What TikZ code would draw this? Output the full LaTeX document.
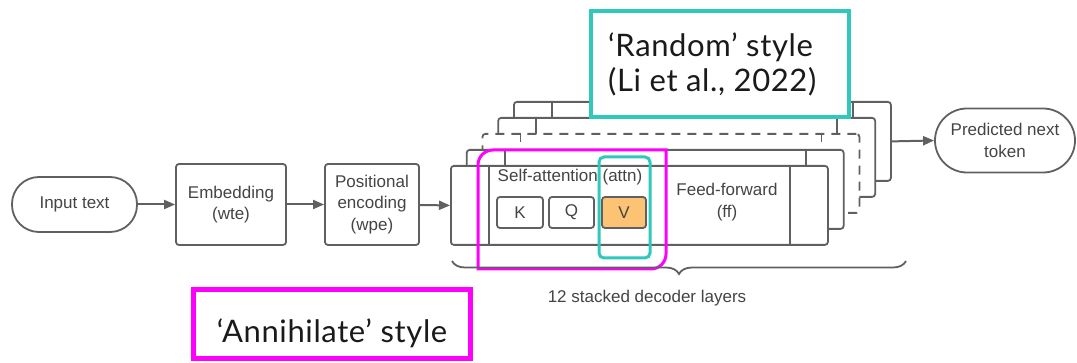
\documentclass[tikz,border=0pt]{standalone}
\usepackage{fontspec}
\setmainfont{Liberation Sans}
\newfontfamily\labelfont[LetterSpace=2]{Lato}
\usetikzlibrary{arrows.meta,decorations.pathreplacing,calc}
\definecolor{linegray}{HTML}{606060}
\definecolor{txtgray}{HTML}{444444}
\definecolor{vorange}{HTML}{FCC375}
\definecolor{magen}{HTML}{FF00FF}
\definecolor{tealc}{HTML}{2EC8BC}
\definecolor{labelblack}{HTML}{1A1A1A}
\tikzset{
  base/.style={draw=linegray, line width=1.8pt, text=txtgray,
    font=\fontsize{17}{21.5}\selectfont, align=center, inner sep=0pt},
  pill/.style={base, rounded corners=27pt, minimum width=125pt, minimum height=55pt},
  box/.style={base, rounded corners=3pt},
  layer/.style={draw=linegray, line width=1.8pt, fill=white, rounded corners=3pt,
    minimum width=377pt, minimum height=79pt, anchor=north west, inner sep=0pt},
  divider/.style={draw=linegray, line width=1.8pt},
  dashedlayer/.style={dash pattern=on 9pt off 7pt},
  plain/.style={text=txtgray, font=\fontsize{17}{21.5}\selectfont, align=center, inner sep=0pt},
  arr/.style={draw=linegray, line width=2pt, -{Triangle[length=11pt,width=9pt]}},
  bigtext/.style={font=\labelfont\fontsize{31}{35}\selectfont, text=labelblack, inner sep=0pt, align=left},
  magline/.style={draw=magen, line width=3pt},
}
\begin{document}
\begin{tikzpicture}[x=1pt,y=-1pt]
\useasboundingbox (0,0) rectangle (1077,363);

% pipeline
\node[pill] (input) at (74.5,204.5) {Input text};
\node[box, minimum width=110pt, minimum height=81pt] (embed) at (231,204.5) {Embedding\\(wte)};
\node[box, minimum width=94pt, minimum height=81pt] (posenc) at (372,204.5) {Positional\\encoding\\(wpe)};

% stacked layers (back to front)
\foreach \i/\st in {4/solid,3/solid,2/dashedlayer,1/solid,0/solid}{
  \node[layer, \st] (L\i) at ({450+15.75*\i},{165-16*\i}) {};
  \draw[divider, \st] ($(L\i.north west)+(39,0)$) -- ($(L\i.south west)+(39,0)$);
  \draw[divider, \st] ($(L\i.north west)+(340,0)$) -- ($(L\i.south west)+(340,0)$);
}

\node[plain] (attn) at (570,177) {Self-attention (attn)};
\node[box, minimum width=46pt, minimum height=31pt] (K) at (520,212.5) {K};
\node[box, minimum width=45pt, minimum height=31pt] (Q) at (571.5,212.5) {Q};
\node[box, fill=vorange, minimum width=44pt, minimum height=31pt] (V) at (624,212.5) {V};
\node[plain] (ff) at (727,202) {Feed-forward\\(ff)};

\node[pill, minimum width=140pt, minimum height=64pt, rounded corners=32pt] (pred) at (1005,140.5) {Predicted next\\token};

\draw[arr] (input) -- (embed);
\draw[arr] (embed) -- (posenc);
\draw[arr] (posenc) -- (L0.west);
\draw[arr] (L4.east) -- (pred.west);

% highlights
\draw[magline] (478,210) [rounded corners=15pt] -- (478,150) -- (572,150)
  [sharp corners] -- (666,150) -- (666,210)
  [rounded corners=15pt] -- (666,269) -- (572,269)
  [sharp corners] -- (478,269) -- cycle;
\node[draw=tealc, line width=3pt, rounded corners=5pt, minimum width=51pt, minimum height=101pt, inner sep=0pt] (vsel) at (624.5,207.5) {};

% brace
\coordinate (bl) at (452,261);
\coordinate (br) at (906,261);
\draw[linegray, line width=1.8pt, decorate, decoration={brace, mirror, amplitude=13pt}] (bl) -- (br);
\node[plain] (stack) at (647,298) {12 stacked decoder layers};

% label boxes
\node[draw=tealc, fill=white, line width=4.5pt, minimum width=258pt, minimum height=106pt, inner sep=0pt] (randbox) at (720,64) {};
\node[bigtext, anchor=base west] (randtxt) at (608,92) {‘Random’ style\\(Li et al., 2022)};
\node[draw=magen, line width=5pt, minimum width=277pt, minimum height=69pt, inner sep=0pt] (annbox) at (332,324) {};
\node[bigtext, anchor=base] (anntxt) at (332,343) {‘Annihilate’ style};
\end{tikzpicture}
\end{document}
